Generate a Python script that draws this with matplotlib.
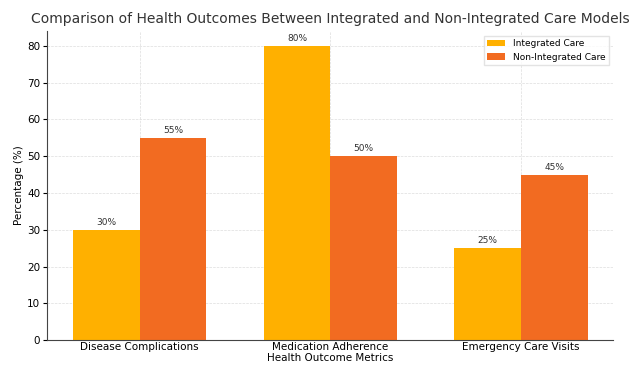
import numpy as np
import matplotlib.pyplot as plt

# data
metrics = ['Disease Complications', 'Medication Adherence', 'Emergency Care Visits']
integrated = [30, 80, 25]
non_integrated = [55, 50, 45]

x = np.arange(len(metrics))
width = 0.35

fig, ax = plt.subplots(figsize=(6.39, 3.65), dpi=100)
b1 = ax.bar(x - width/2, integrated, width, label='Integrated Care', color='#FFB000')
b2 = ax.bar(x + width/2, non_integrated, width, label='Non-Integrated Care', color='#F26B21')

# percentage labels over each bar
for bars in (b1, b2):
    for bar in bars:
        h = bar.get_height()
        ax.annotate(f'{h:.0f}%', xy=(bar.get_x() + bar.get_width()/2, h),
                    xytext=(0, 2), textcoords='offset points',
                    ha='center', va='bottom', fontsize=6.5, color='#333333')

ax.set_xticks(x)
ax.set_xticklabels(metrics, fontsize=7.5)
ax.tick_params(axis='y', labelsize=7.5, length=3, pad=2)
ax.tick_params(axis='x', length=0, pad=1.5)
ax.set_xlabel('Health Outcome Metrics', fontsize=7.5, labelpad=0.5)
ax.set_ylabel('Percentage (%)', fontsize=7.5, labelpad=2)
ax.set_title('Comparison of Health Outcomes Between Integrated and Non-Integrated Care Models',
             fontsize=10, color='#333333', pad=6)
ax.set_ylim(0, 84)
ax.grid(True, linestyle='--', linewidth=0.5, color='#dddddd')
ax.set_axisbelow(True)
ax.spines['top'].set_visible(False)
ax.spines['right'].set_visible(False)
ax.spines['left'].set_color('#444444')
ax.spines['bottom'].set_color('#444444')
ax.legend(fontsize=6.5, loc='upper right', fancybox=False, edgecolor='#dddddd')

plt.subplots_adjust(left=0.074, right=0.96, top=0.915, bottom=0.068)
plt.savefig('out.png')
